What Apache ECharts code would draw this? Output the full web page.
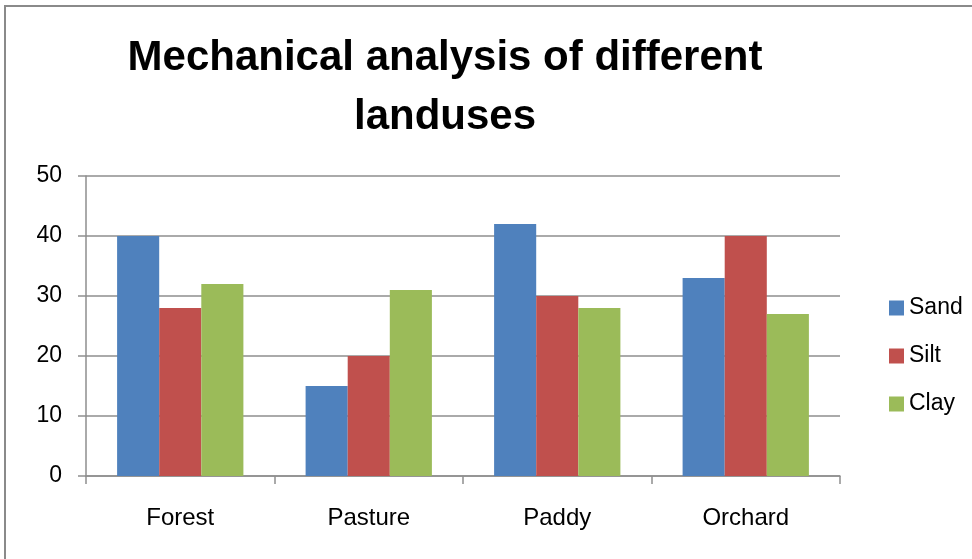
<!DOCTYPE html>
<html>
<head>
    <meta charset="UTF-8">
    <title>Mechanical analysis of different landuses</title>
    <script src="https://cdn.jsdelivr.net/npm/echarts@6/dist/echarts.min.js"></script>
    <style>
        html, body { margin: 0; padding: 0; background: #fff; }
        #frame {
            position: absolute; left: 4px; top: 5px; width: 980px; height: 600px;
            border-left: 2px solid #8a8a8a; border-top: 2px solid #8a8a8a;
        }
        #main { position: absolute; left: 0; top: 0; width: 972px; height: 559px; }
    </style>
</head>
<body>
<div id="frame"></div>
<div id="main"></div>
<script>
var categories = ['Forest', 'Pasture', 'Paddy', 'Orchard'];
var sand = [40, 15, 42, 33];
var silt = [28, 20, 30, 40];
var clay = [32, 31, 28, 27];
var yTicks = [0, 10, 20, 30, 40, 50];

var myChart = echarts.init(document.getElementById('main'));

var gridLine = { color: '#8e8e8e', width: 1.5 };

option = {
    animation: false,
    title: {
        text: 'Mechanical analysis of different\nlanduses',
        left: 445,          // centre of the title, sits left of the page centre
        top: 29,
        padding: 0,
        textAlign: 'center',
        textStyle: {
            fontFamily: 'Liberation Sans',
            fontWeight: 'bold',
            fontSize: 42,
            lineHeight: 59,
            color: '#000'
        }
    },
    legend: {
        orient: 'vertical',
        left: 884,
        top: 291,
        itemWidth: 15,
        itemHeight: 15,
        itemGap: 24,
        icon: 'rect',
        textStyle: {
            fontFamily: 'Liberation Sans',
            fontSize: 23,
            lineHeight: 24,
            color: '#000'
        },
        data: ['Sand', 'Silt', 'Clay']
    },
    grid: { left: 86, right: 132, top: 176, bottom: 83, containLabel: false },
    xAxis: {
        type: 'category',
        data: categories,
        axisLine: { lineStyle: gridLine },
        axisTick: { show: true, length: 8, lineStyle: gridLine },
        axisLabel: { margin: 30, fontFamily: 'Liberation Sans', fontSize: 24, color: '#000' }
    },
    yAxis: {
        type: 'value',
        min: yTicks[0],
        max: yTicks[yTicks.length - 1],
        interval: 10,
        axisLine: { show: true, lineStyle: gridLine },
        axisTick: { show: true, length: 8, lineStyle: gridLine },
        splitLine: { show: true, lineStyle: gridLine },
        axisLabel: { margin: 24, fontFamily: 'Liberation Sans', fontSize: 23, color: '#000' }
    },
    series: [
        {
            name: 'Sand', type: 'bar', data: sand,
            barGap: '0%', barCategoryGap: '33%',
            itemStyle: { color: '#4f81bd' }
        },
        {
            name: 'Silt', type: 'bar', data: silt,
            barGap: '0%', barCategoryGap: '33%',
            itemStyle: { color: '#c0504d' }
        },
        {
            name: 'Clay', type: 'bar', data: clay,
            barGap: '0%', barCategoryGap: '33%',
            itemStyle: { color: '#9bbb59' }
        }
    ]
};
myChart.setOption(option);
</script>
</body>
</html>
